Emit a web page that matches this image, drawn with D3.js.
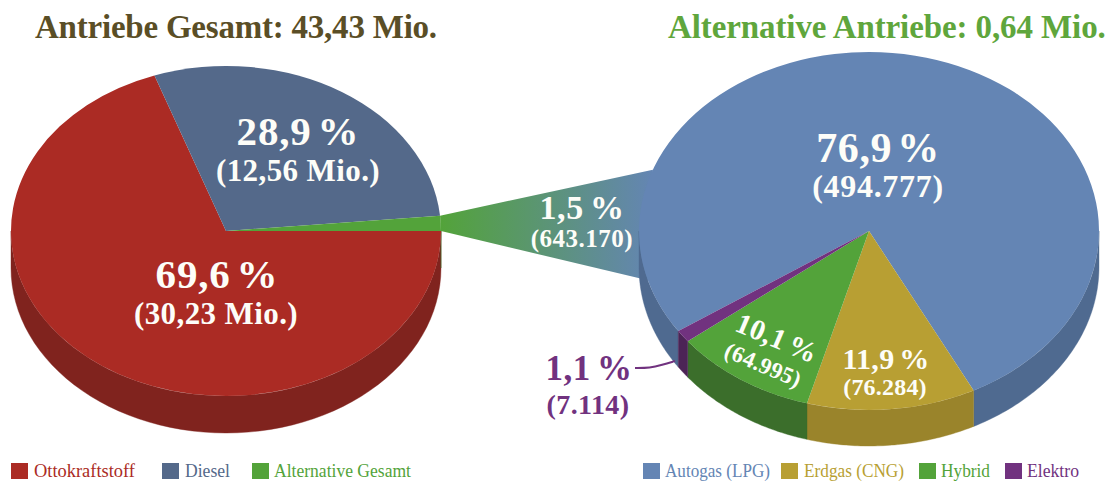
<!DOCTYPE html>
<html lang="de">
<head>
<meta charset="utf-8">
<title>Antriebe</title>
<script src="https://cdn.jsdelivr.net/npm/d3@7"></script>
<style>
  html, body { margin: 0; padding: 0; background: #fff; }
  svg { display: block; }
  text { font-family: "Liberation Serif", "DejaVu Serif", serif; font-weight: bold; }
  .legend text { font-weight: normal; }
</style>
</head>
<body>
<svg id="chart" width="1110" height="481"></svg>
<script>
// Fahrzeugbestand nach Antriebsart
const totalNames = ["Ottokraftstoff", "Diesel", "Alternative Gesamt"];
const totalValues = [30.23, 12.56, 0.64317];
const totalPercent = ["69,6 %", "28,9 %", "1,5 %"];
const totalAmount = ["(30,23 Mio.)", "(12,56 Mio.)", "(643.170)"];
const totalColors = ["#ab2b24", "#54698a", "#53a33a"];
const totalWalls = ["#80231e", "#415270", "#3b6e2b"];

const altNames = ["Autogas (LPG)", "Erdgas (CNG)", "Hybrid", "Elektro"];
const altValues = [494777, 76284, 64995, 7114];
const altPercent = ["76,9 %", "11,9 %", "10,1 %", "1,1 %"];
const altAmount = ["(494.777)", "(76.284)", "(64.995)", "(7.114)"];
const altColors = ["#6485b4", "#b89f33", "#53a33a", "#71327f"];
const altWalls = ["#4f6a90", "#9a842b", "#3b6e2b", "#4c2456"];

const svg = d3.select("#chart");
const deg = Math.PI / 180;
const leftPie = { cx: 226, cy: 231, rx: 215, ry: 165, depth: 37, start: 90 * deg };
const rightPie = { cx: 869, cy: 231, rx: 230, ry: 179, depth: 36, start: 236 * deg };

const rim = (p, a, dy = 0) => [p.cx + p.rx * Math.sin(a), p.cy - p.ry * Math.cos(a) + dy];

function slices(p, values) {
  return d3.pie().sort(null).startAngle(p.start).endAngle(p.start + 2 * Math.PI)(values);
}

// Seitenwand: nur der vordere Teil der Ellipse (90 bis 270 Grad) ist sichtbar
function drawWalls(p, arcs, colors) {
  const line = d3.line();
  const g = svg.append("g");
  arcs.forEach((d, i) => {
    [0, 2 * Math.PI].forEach(turn => {
      const a0 = Math.max(d.startAngle - turn, Math.PI / 2);
      const a1 = Math.min(d.endAngle - turn, 3 * Math.PI / 2);
      if (a1 <= a0) return;
      const steps = d3.range(0, 61).map(k => a0 + (a1 - a0) * k / 60);
      const pts = steps.map(a => rim(p, a)).concat(steps.slice().reverse().map(a => rim(p, a, p.depth)));
      g.append("path").attr("d", line(pts) + "Z").attr("fill", colors[i]).attr("stroke", colors[i]).attr("stroke-width", 0.4);
    });
  });
}

function drawTop(p, arcs, colors) {
  const arc = d3.arc().innerRadius(0).outerRadius(p.rx);
  svg.append("g")
    .attr("transform", `translate(${p.cx},${p.cy}) scale(1,${p.ry / p.rx})`)
    .selectAll("path").data(arcs).join("path")
    .attr("d", arc).attr("fill", (d, i) => colors[i]);
}

const leftArcs = slices(leftPie, totalValues);
const rightArcs = slices(rightPie, altValues);

drawWalls(leftPie, leftArcs, totalWalls);
drawTop(leftPie, leftArcs, totalColors);

// Verbindungskeil vom Segment "Alternative Gesamt" zur rechten Torte
const defs = svg.append("defs");
const grad = defs.append("linearGradient").attr("id", "bridge")
  .attr("gradientUnits", "userSpaceOnUse")
  .attr("x1", leftPie.cx + leftPie.rx).attr("x2", rightPie.cx - rightPie.rx + 15)
  .attr("y1", 0).attr("y2", 0);
grad.append("stop").attr("offset", 0).attr("stop-color", totalColors[2]);
grad.append("stop").attr("offset", 1).attr("stop-color", altColors[0]);
const bridge = leftArcs[2];
svg.append("path")
  .attr("d", d3.line()([
    rim(leftPie, bridge.startAngle), rim(rightPie, 290 * deg),
    rim(rightPie, 254 * deg), rim(leftPie, bridge.endAngle)
  ]) + "Z")
  .attr("fill", "url(#bridge)");

drawWalls(rightPie, rightArcs, altWalls);
drawTop(rightPie, rightArcs, altColors);

// Beschriftung mit Laufweite und Wortabstand
function label(txt, x, y, size, color, opts = {}) {
  const t = svg.append("text").text(txt).attr("x", x).attr("y", y)
    .attr("font-size", size).attr("fill", color)
    .attr("text-anchor", opts.anchor || "middle")
    .style("letter-spacing", (opts.ls || 0) + "px")
    .style("word-spacing", (opts.ws || 0) + "px");
  if (opts.rotate) t.attr("transform", `rotate(${opts.rotate} ${x} ${y})`);
  return t;
}
label("Antriebe Gesamt: 43,43 Mio.", 35, 38, 33, "#5a4e26", { anchor: "start", ls: -0.22 });
label("Alternative Antriebe: 0,64 Mio.", 668, 38, 33, "#5fa63c", { anchor: "start", ls: -0.1 });

// Werte in den Segmenten
const white = "#fdfdf8";
label(totalPercent[1], 298, 145, 41, white, { ws: -5, ls: 0.8 });
label(totalAmount[1], 298, 181, 31, white, { ls: 0.4 });
label(totalPercent[0], 217, 288, 41, white, { ws: -5, ls: 0.8 });
label(totalAmount[0], 216, 324, 31, white, { ls: 0.4 });
label(totalPercent[2], 582, 219, 34, white, { ws: -3, ls: 0.6 });
label(totalAmount[2], 582, 247, 25, white, { ls: 0.5 });
label(altPercent[0], 878, 162, 42, white, { ws: -6, ls: 0.6 });
label(altAmount[0], 878, 197, 32, white, { ls: 0.7 });
label(altPercent[1], 886, 369, 30, white, { ws: -3, ls: 0.3 });
label(altAmount[1], 885, 395, 24, white, { ls: 0.2 });
label(altPercent[2], 773, 347, 29, white, { rotate: 23, ws: -3, ls: 0.3 });
label(altAmount[2], 760, 372, 23, white, { rotate: 23, ls: 0.3 });
label(altPercent[3], 589, 380, 35, altColors[3], { ws: -3, ls: 0.5 });
label(altAmount[3], 588, 414, 28, altColors[3], { ls: 0.4 });

// Hinweislinie zum Segment "Elektro"
svg.append("path")
  .attr("d", d3.line().curve(d3.curveBasis)([[635, 368], [650, 368], [662, 365], [675, 361]]))
  .attr("fill", "none").attr("stroke", altColors[3]).attr("stroke-width", 2);

// Legenden: schmal gesetzte Schrift mit fester Textbreite
function legend(names, colors, swatchX, textX, textW) {
  const g = svg.append("g").attr("class", "legend");
  names.forEach((n, i) => {
    g.append("rect").attr("x", swatchX[i]).attr("y", 463).attr("width", 17).attr("height", 16).attr("fill", colors[i]);
    g.append("text").text(n).attr("x", textX[i]).attr("y", 477).attr("font-size", 19).attr("fill", colors[i])
      .attr("textLength", textW[i]).attr("lengthAdjust", "spacingAndGlyphs");
  });
}
legend(totalNames, totalColors, [11, 162, 252], [34, 185, 274], [101, 45, 137]);
legend(altNames, altColors, [643, 781, 919, 1005], [665, 804, 941, 1027], [105, 100, 49, 52]);
</script>
</body>
</html>
